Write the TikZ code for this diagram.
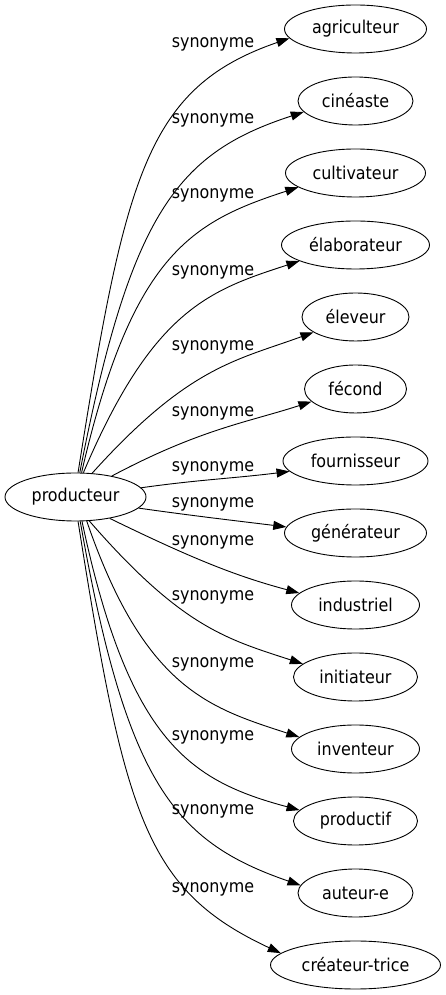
\documentclass[tikz,border=0pt]{standalone}
\usepackage{fontspec}
\setmainfont{DejaVu Sans Condensed}
\usetikzlibrary{arrows.meta,shapes.geometric}
\begin{document}
\begin{tikzpicture}[
    x=1pt, y=1pt,
    mot/.style={draw, ellipse, minimum height=48pt, inner sep=0pt, line width=0.9pt},
    lien/.style={line width=0.9pt, -{Triangle[length=13pt,width=9pt]}},
    etiquette/.style={inner sep=0pt},
    font=\fontsize{17.7}{20}\selectfont
]
\useasboundingbox (0,0) rectangle (445,995);

% Mot de départ
\node[mot, minimum width=141pt] (prod) at (75.5,498) {producteur};

% Synonymes, colonne de droite
\node[mot, minimum width=142pt] (agri) at (355.5,966) {agriculteur};
\node[mot, minimum width=115pt] (cine) at (355.5,894) {cinéaste};
\node[mot, minimum width=140pt] (culti) at (355.5,822) {cultivateur};
\node[mot, minimum width=148pt] (elab) at (355.5,750) {élaborateur};
\node[mot, minimum width=107pt] (elev) at (355.5,678) {éleveur};
\node[mot, minimum width=102pt] (fecond) at (355.5,606) {fécond};
\node[mot, minimum width=145pt] (fourn) at (355.5,534) {fournisseur};
\node[mot, minimum width=142pt] (gene) at (355.5,462) {générateur};
\node[mot, minimum width=128pt] (indus) at (355.5,390) {industriel};
\node[mot, minimum width=124pt] (init) at (355.5,318) {initiateur};
\node[mot, minimum width=128pt] (inven) at (355.5,246) {inventeur};
\node[mot, minimum width=124pt] (produ) at (355.5,174) {productif};
\node[mot, minimum width=115pt] (auteur) at (355.5,102) {auteur-e};
\node[mot, minimum width=170pt] (createur) at (355.5,30) {créateur-trice};

% Liens vers le haut
\draw[lien] (prod.84) to[out=81, in=199, out looseness=1.6, in looseness=0.8] (agri.188);
\draw[lien] (prod.80) to[out=79, in=198, out looseness=1.6, in looseness=0.8] (cine.192);
\draw[lien] (prod.76) to[out=77, in=198, out looseness=1.6, in looseness=0.8] (culti.194);
\draw[lien] (prod.72) to[out=67, in=198, out looseness=1.5, in looseness=0.8] (elab.196);
\draw[lien] (prod.55) to[out=48, in=200, out looseness=1.4, in looseness=0.8] (elev.200);
\draw[lien] (prod.30) to[out=28, in=198, out looseness=1.2, in looseness=0.8] (fecond.196);

% Liens presque droits
\draw[lien] (prod.8) to[out=8, in=187] (fourn.189);
\draw[lien] (prod.-10) to[out=-8, in=173] (gene.175);

% Liens vers le bas
\draw[lien] (prod.-32) to[out=-26, in=165, out looseness=1.2, in looseness=0.8] (indus.168);
\draw[lien] (prod.-60) to[out=-49, in=162, out looseness=1.4, in looseness=0.8] (init.166);
\draw[lien] (prod.-65) to[out=-71, in=162, out looseness=1.5, in looseness=0.8] (inven.168);
\draw[lien] (prod.-75) to[out=-78, in=165, out looseness=1.6, in looseness=0.8] (produ.169);
\draw[lien] (prod.-79) to[out=-80, in=161, out looseness=1.6, in looseness=0.8] (auteur.172);
\draw[lien] (prod.-84) to[out=-81, in=155, out looseness=1.6, in looseness=0.8] (createur.171);

% Étiquettes des liens
\node[etiquette] (e1) at (213,951) {synonyme};
\node[etiquette] (e2) at (213,875) {synonyme};
\node[etiquette] (e3) at (213,800) {synonyme};
\node[etiquette] (e4) at (213,723) {synonyme};
\node[etiquette] (e5) at (213,648) {synonyme};
\node[etiquette] (e6) at (213,582) {synonyme};
\node[etiquette] (e7) at (213,527) {synonyme};
\node[etiquette] (e8) at (213,491) {synonyme};
\node[etiquette] (e9) at (213,453) {synonyme};
\node[etiquette] (e10) at (213,398) {synonyme};
\node[etiquette] (e11) at (213,331) {synonyme};
\node[etiquette] (e12) at (213,258) {synonyme};
\node[etiquette] (e13) at (213,184) {synonyme};
\node[etiquette] (e14) at (213,106) {synonyme};

\end{tikzpicture}
\end{document}
